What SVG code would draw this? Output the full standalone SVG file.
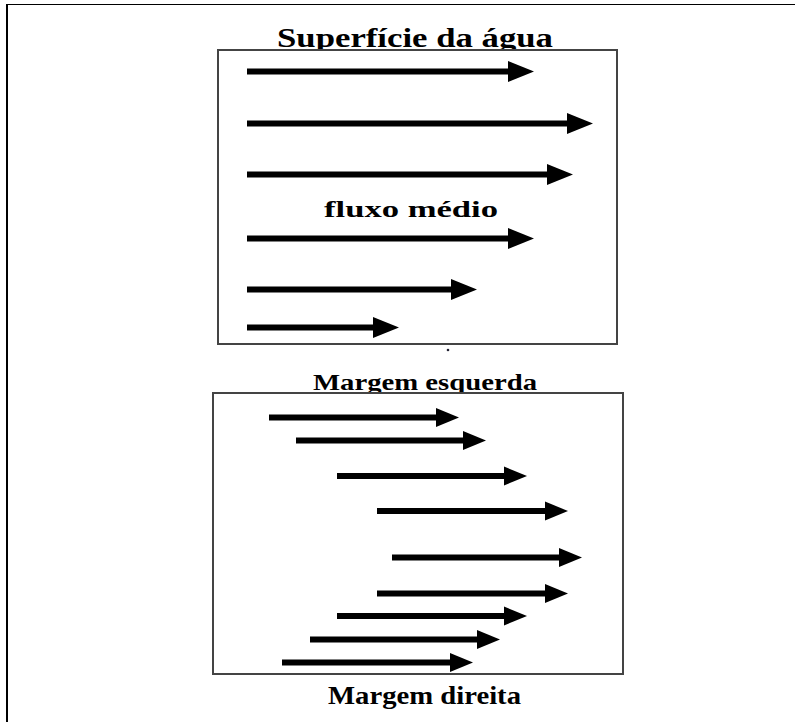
<svg xmlns="http://www.w3.org/2000/svg" width="798" height="722" viewBox="0 0 798 722">
  <style>
    .lbl { font-family: "Liberation Serif", "Times New Roman", serif; font-weight: bold; fill: #000; }
    .box { fill: #fff; stroke: #444; stroke-width: 2; }
    .shaft { stroke: #000; stroke-width: 6; fill: none; }
    .shaft-a { marker-end: url(#headA); }
    .shaft-b { marker-end: url(#headB); }
  </style>
  <defs>
    <marker id="headA" markerUnits="userSpaceOnUse" markerWidth="26" markerHeight="21" refX="0" refY="10.5" orient="auto" overflow="visible">
      <path d="M0,0 L26,10.5 L0,21 Z" fill="#000"/>
    </marker>
    <marker id="headB" markerUnits="userSpaceOnUse" markerWidth="23" markerHeight="19" refX="0" refY="9.5" orient="auto" overflow="visible">
      <path d="M0,0 L23,9.5 L0,19 Z" fill="#000"/>
    </marker>
  </defs>
  <rect width="798" height="722" fill="#fff"/>
  <g id="frame">
    <line x1="6" y1="4.5" x2="795" y2="4.5" stroke="#000" stroke-width="1.2"/>
    <line x1="7" y1="4" x2="7" y2="722" stroke="#000" stroke-width="2"/>
  </g>
  <g id="top-panel">
    <text class="lbl" x="277" y="47" font-size="27" textLength="276" lengthAdjust="spacingAndGlyphs">Superfície da água</text>
    <rect class="box" x="218" y="50" width="399" height="294"/>
    <text class="lbl" x="324" y="216.5" font-size="24" textLength="174" lengthAdjust="spacingAndGlyphs">fluxo médio</text>
  </g>
  <g id="bottom-panel">
    <circle cx="448" cy="350" r="1.3" fill="#223"/>
    <text class="lbl" x="313" y="389.5" font-size="24" textLength="224" lengthAdjust="spacingAndGlyphs">Margem esquerda</text>
    <rect class="box" x="213" y="393" width="410" height="281"/>
    <text class="lbl" x="328" y="704" font-size="25" textLength="193" lengthAdjust="spacingAndGlyphs">Margem direita</text>
  </g>
  <g id="connectors">
    <line class="shaft shaft-a" x1="247" y1="71.5" x2="508" y2="71.5"/>
    <line class="shaft shaft-a" x1="247" y1="123.5" x2="567" y2="123.5"/>
    <line class="shaft shaft-a" x1="247" y1="174.5" x2="547" y2="174.5"/>
    <line class="shaft shaft-a" x1="247" y1="238.5" x2="508" y2="238.5"/>
    <line class="shaft shaft-a" x1="247" y1="289.5" x2="451" y2="289.5"/>
    <line class="shaft shaft-a" x1="247" y1="327.5" x2="373" y2="327.5"/>

    <line class="shaft shaft-b" x1="269" y1="417.5" x2="436" y2="417.5"/>
    <line class="shaft shaft-b" x1="296" y1="440.5" x2="463" y2="440.5"/>
    <line class="shaft shaft-b" x1="337" y1="476" x2="504" y2="476"/>
    <line class="shaft shaft-b" x1="377" y1="511" x2="545" y2="511"/>
    <line class="shaft shaft-b" x1="392" y1="557.5" x2="559" y2="557.5"/>
    <line class="shaft shaft-b" x1="377" y1="593.5" x2="545" y2="593.5"/>
    <line class="shaft shaft-b" x1="337" y1="616" x2="504" y2="616"/>
    <line class="shaft shaft-b" x1="310" y1="639.5" x2="477" y2="639.5"/>
    <line class="shaft shaft-b" x1="282" y1="662.5" x2="450" y2="662.5"/>
  </g>
</svg>
